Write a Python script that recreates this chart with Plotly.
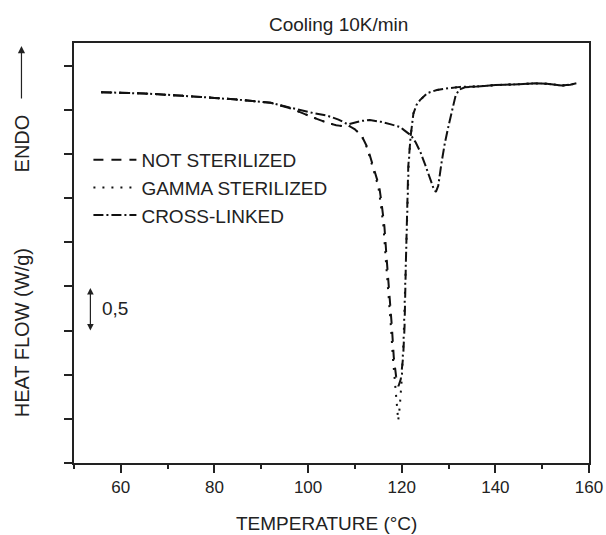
import plotly.graph_objects as go

# ---- data ----
# common baseline region (all three samples overlap)
base_x = [55.8, 60, 65, 70, 75, 80, 85, 90]
base_y = [-0.300, -0.305, -0.315, -0.330, -0.345, -0.365, -0.385, -0.405]

ns_x = base_x + [92, 94, 96, 98, 100, 102, 104, 106, 107.5, 108.7, 110, 111.5, 112.7,
                 113.9, 115.2, 115.7, 116.3, 116.8, 117.4, 117.9, 118.3, 118.8, 119.3,
                 119.8, 120.3, 120.6, 120.9, 121.1, 121.4, 121.9, 122.5, 123.2, 123.9,
                 125.5, 127.5, 130, 132.5, 136, 140, 145, 148.5, 151, 154.3, 156, 157.3]
ns_y = base_y + [-0.42, -0.45, -0.48, -0.52, -0.565, -0.605, -0.645, -0.675, -0.685, -0.68,
                 -0.72, -0.80, -0.93, -1.14, -1.37, -1.56, -1.82, -2.20, -2.58, -2.96,
                 -3.30, -3.52, -3.63, -3.55, -3.30, -2.96, -2.20, -1.63, -1.14, -0.80,
                 -0.54, -0.44, -0.39, -0.31, -0.275, -0.255, -0.24, -0.235, -0.22,
                 -0.21, -0.20, -0.205, -0.225, -0.215, -0.20]

gamma_x = base_x + [92, 94, 96, 98, 100, 102, 104, 106, 107.5, 108.7, 110, 111.5, 112.6,
                    113.7, 115.0, 115.5, 116.1, 116.6, 117.2, 117.7, 118.1, 118.6, 119.0,
                    119.25, 119.6, 120.0, 120.4, 120.7, 120.95, 121.2, 121.5, 121.9, 122.5,
                    123.2, 123.9, 125.5, 127.5, 130, 132.5, 136, 140, 145, 148.5, 151,
                    154.3, 156, 157.3]
gamma_y = base_y + [-0.42, -0.45, -0.48, -0.52, -0.565, -0.605, -0.645, -0.675, -0.685,
                    -0.68, -0.72, -0.80, -0.93, -1.14, -1.37, -1.56, -1.82, -2.20, -2.58,
                    -2.96, -3.30, -3.62, -3.88, -4.02, -3.85, -3.55, -3.10, -2.60, -2.00,
                    -1.50, -1.10, -0.80, -0.54, -0.44, -0.39, -0.31, -0.275, -0.255,
                    -0.24, -0.235, -0.22, -0.21, -0.20, -0.205, -0.225, -0.215, -0.20]

cl_x = base_x + [92, 95, 98, 101, 104, 106.5, 108.5, 110, 111.5, 113.2, 115.5, 117.7, 119.7,
                 120.5, 122, 123, 124, 125, 126, 126.8, 127.3, 127.8, 128.5, 129.2, 130,
                 130.8, 131.5, 132.3, 133.5, 136, 140, 145, 148.5, 151, 154.3, 156, 157.3]
cl_y = base_y + [-0.42, -0.46, -0.50, -0.535, -0.565, -0.61, -0.665, -0.645, -0.625,
                 -0.615, -0.635, -0.665, -0.695, -0.73, -0.79, -0.87, -0.98, -1.12, -1.27,
                 -1.39, -1.43, -1.36, -1.10, -0.88, -0.68, -0.48, -0.34, -0.27, -0.245,
                 -0.235, -0.22, -0.21, -0.20, -0.205, -0.225, -0.215, -0.20]

names = ["NOT STERILIZED", "GAMMA STERILIZED", "CROSS-LINKED"]
x_ticks = [60, 80, 100, 120, 140, 160]
y_ticks = [0, -0.5, -1.0, -1.5, -2.0, -2.5, -3.0, -3.5, -4.0, -4.5]
scale_bar = [-2.5, -3.0]   # 0,5 W/g scale arrow

FONT = "Liberation Sans, Arial, sans-serif"

fig = go.Figure()
fig.add_trace(go.Scatter(x=ns_x, y=ns_y, mode="lines", name=names[0],
                         line=dict(color="#111", width=2, dash="10px,8px")))
fig.add_trace(go.Scatter(x=gamma_x, y=gamma_y, mode="lines", name=names[1],
                         line=dict(color="#111", width=2, dash="2px,7px")))
fig.add_trace(go.Scatter(x=cl_x, y=cl_y, mode="lines", name=names[2],
                         line=dict(color="#111", width=2, dash="10px,3px,2px,3px")))

axis_common = dict(showline=True, linecolor="#222", linewidth=1.5, mirror=True,
                   showgrid=False, zeroline=False, ticks="outside", tickcolor="#222",
                   tickwidth=1.5, ticklen=8, automargin=False)

fig.update_xaxes(range=[50, 160], tickvals=x_ticks, ticktext=[str(v) for v in x_ticks],
                 tickfont=dict(family=FONT, size=17, color="#222"),
                 minor=dict(dtick=10, tick0=50, ticks="outside", ticklen=4,
                            tickcolor="#222", tickwidth=1.5),
                 **axis_common)
fig.update_yaxes(range=[-4.5, 0.257], tickvals=y_ticks, showticklabels=False,
                 **axis_common)

ann = []
ann.append(dict(text="Cooling 10K/min", x=0.514, y=1.045, xref="paper", yref="paper",
                showarrow=False, xanchor="center", yanchor="middle",
                font=dict(family=FONT, size=19, color="#222")))
ann.append(dict(text="TEMPERATURE (°C)", x=0.49, y=-0.143, xref="paper", yref="paper",
                showarrow=False, xanchor="center", yanchor="middle",
                font=dict(family=FONT, size=19, color="#222")))
ann.append(dict(text="HEAT FLOW (W/g)", x=-0.102, y=0.31, xref="paper", yref="paper",
                showarrow=False, textangle=-90, xanchor="center", yanchor="middle",
                font=dict(family=FONT, size=20, color="#222")))
ann.append(dict(text="ENDO", x=-0.102, y=0.762, xref="paper", yref="paper",
                showarrow=False, textangle=-90, xanchor="center", yanchor="middle",
                font=dict(family=FONT, size=20, color="#222")))
# ENDO arrow
ann.append(dict(text="", x=-0.102, y=0.993, xref="paper", yref="paper",
                showarrow=True, ax=0, ay=54, arrowhead=2, arrowsize=1.2,
                arrowwidth=1.2, arrowcolor="#222"))
# 0,5 scale arrow (double-headed)
ann.append(dict(text="", x=53.5, y=scale_bar[1], xref="x", yref="y",
                ax=53.5, ay=scale_bar[0], axref="x", ayref="y",
                showarrow=True, arrowhead=2, startarrowhead=2, arrowside="end+start",
                arrowsize=1.1, arrowwidth=1.2, arrowcolor="#222"))
ann.append(dict(text="0,5", x=55.6, y=(scale_bar[0] + scale_bar[1]) / 2, xref="x", yref="y",
                showarrow=False, xanchor="left", yanchor="middle",
                font=dict(family=FONT, size=19, color="#222")))

fig.update_layout(
    width=606, height=535, autosize=False,
    margin=dict(l=74, r=17, t=43, b=72, autoexpand=False),
    paper_bgcolor="white", plot_bgcolor="white",
    showlegend=True,
    legend=dict(x=0.028, y=0.767, xanchor="left", yanchor="top", itemwidth=43,
                bgcolor="rgba(0,0,0,0)", borderwidth=0,
                font=dict(family=FONT, size=19, color="#222")),
    annotations=ann,
)

fig.write_html("out.html", config={"displayModeBar": False},
               post_script="document.body.style.margin='0';"
               "document.body.style.padding='0';")
